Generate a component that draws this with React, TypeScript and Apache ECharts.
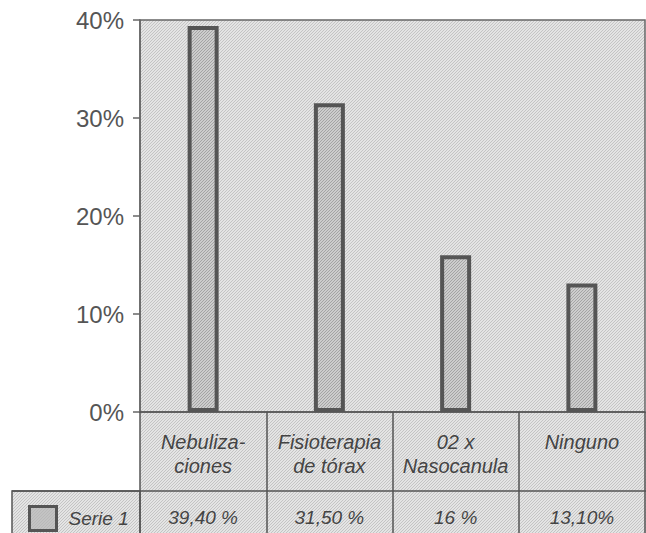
import React, { useEffect, useRef } from "react";
import * as echarts from "echarts";

const categories = ["Nebuliza-\nciones", "Fisioterapia\nde tórax", "02 x\nNasocanula", "Ninguno"];
const values = [39.4, 31.5, 16, 13.1];
const valueLabels = ["39,40 %", "31,50 %", "16 %", "13,10%"];
const seriesName = "Serie 1";
const yMin = 0;
const yMax = 40;
const yStep = 10;

function makePattern(base: string, line: string, size: number) {
  const c = document.createElement("canvas");
  c.width = size;
  c.height = size;
  const ctx = c.getContext("2d")!;
  ctx.fillStyle = base;
  ctx.fillRect(0, 0, size, size);
  ctx.fillStyle = line;
  for (let i = 0; i < size; i++) ctx.fillRect(i, size - 1 - i, 1, 1);
  return { image: c, repeat: "repeat", imageWidth: size, imageHeight: size } as any;
}

export default function App() {
  const ref = useRef<HTMLDivElement>(null);
  useEffect(() => {
    document.body.style.margin = "0";
    document.body.style.background = "#fff";
    const chart = echarts.init(ref.current!, null, { renderer: "svg" });
    const bgPat = makePattern("#e4e4e4", "#c4c4c4", 3);
    const barPat = makePattern("#cdcdcd", "#a4a4a4", 3);
    const font = "'Liberation Sans', Arial, sans-serif";
    const gridLeft = 140;
    const gridTop = 20;
    const gridW = 505;
    const gridH = 392;
    const bottomY = gridTop + gridH;
    const rowY = 491;
    chart.setOption({
      animation: false,
      grid: {
        left: gridLeft,
        top: gridTop,
        width: gridW,
        height: gridH,
        show: true,
        backgroundColor: bgPat,
        borderColor: "#666",
        borderWidth: 1.5,
      },
      legend: {
        data: [seriesName],
        left: 28,
        top: 505,
        padding: 0,
        icon: "rect",
        itemWidth: 27,
        itemHeight: 24,
        itemStyle: { color: barPat, borderColor: "#555", borderWidth: 3 },
        textStyle: {
          fontFamily: font,
          fontStyle: "italic",
          fontSize: 19,
          color: "#444",
          padding: [0, 0, 0, 7],
        },
      },
      graphic: [
        {
          type: "rect",
          z: -5,
          silent: true,
          shape: { x: gridLeft, y: bottomY, width: 646 - gridLeft, height: 533 - bottomY },
          style: { fill: bgPat },
        },
        {
          type: "rect",
          z: -5,
          silent: true,
          shape: { x: 12, y: rowY, width: gridLeft - 12, height: 533 - rowY + 5 },
          style: { fill: bgPat, stroke: "#555", lineWidth: 1.5 },
        },
        {
          type: "line",
          silent: true,
          shape: { x1: 12, y1: rowY, x2: 646, y2: rowY },
          style: { stroke: "#555", lineWidth: 1.5 },
        },
      ],
      xAxis: [
        {
          type: "category",
          data: categories,
          position: "bottom",
          axisLine: { show: true, lineStyle: { color: "#555", width: 1.5 } },
          axisTick: { show: true, length: 533 - bottomY, lineStyle: { color: "#555", width: 1.5 } },
          axisLabel: {
            interval: 0,
            margin: 18,
            fontFamily: font,
            fontStyle: "italic",
            fontSize: 20,
            lineHeight: 24,
            color: "#444",
          },
          splitLine: { show: false },
        },
        {
          type: "category",
          data: valueLabels,
          position: "bottom",
          axisLine: { show: false },
          axisTick: { show: false },
          axisLabel: {
            interval: 0,
            margin: 95,
            fontFamily: font,
            fontStyle: "italic",
            fontSize: 19,
            lineHeight: 20,
            color: "#444",
          },
          splitLine: { show: false },
        },
      ],
      yAxis: {
        type: "value",
        min: yMin,
        max: yMax,
        interval: yStep,
        axisLine: { show: true, lineStyle: { color: "#666", width: 1.5 } },
        axisTick: { show: true, length: 7, lineStyle: { color: "#666", width: 1.5 } },
        axisLabel: {
          formatter: "{value}%",
          margin: 16,
          fontFamily: font,
          fontSize: 24,
          color: "#555",
        },
        splitLine: { show: false },
      },
      series: [
        {
          name: seriesName,
          type: "bar",
          xAxisIndex: 0,
          data: values,
          barWidth: 31,
          itemStyle: { color: barPat, borderColor: "#555", borderWidth: 4 },
        },
      ],
    });
    return () => chart.dispose();
  }, []);
  return <div ref={ref} style={{ width: 646, height: 533 }} />;
}
